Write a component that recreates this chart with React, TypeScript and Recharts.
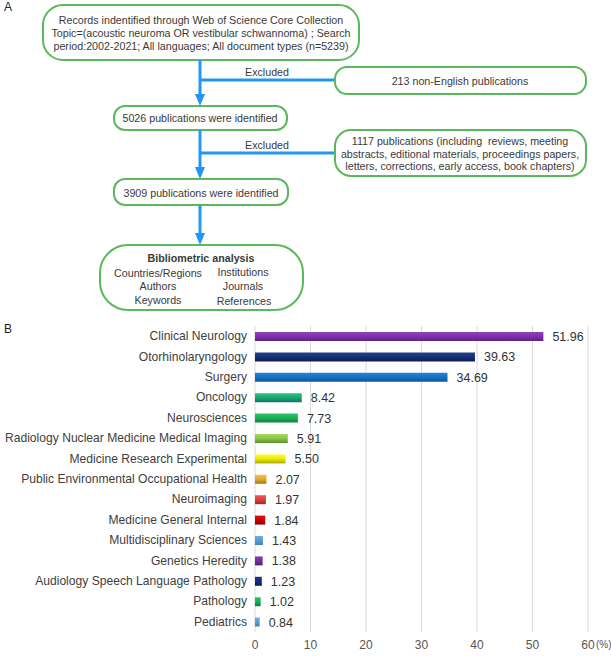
import React from "react";
import { BarChart, Bar, XAxis, YAxis, CartesianGrid, Cell, LabelList } from "recharts";

const categories = [
  "Clinical Neurology",
  "Otorhinolaryngology",
  "Surgery",
  "Oncology",
  "Neurosciences",
  "Radiology Nuclear Medicine Medical Imaging",
  "Medicine Research Experimental",
  "Public Environmental Occupational Health",
  "Neuroimaging",
  "Medicine General Internal",
  "Multidisciplinary Sciences",
  "Genetics Heredity",
  "Audiology Speech Language Pathology",
  "Pathology",
  "Pediatrics",
];
const shares = [51.96, 39.63, 34.69, 8.42, 7.73, 5.91, 5.5, 2.07, 1.97, 1.84, 1.43, 1.38, 1.23, 1.02, 0.84];
const xTicks = [0, 10, 20, 30, 40, 50, 60];

// gradient stops per bar: top, middle, bottom
const barColors: string[][] = [
  ["#8a45b8", "#7a32a8", "#5e2284"],
  ["#26408c", "#172f78", "#0e1f58"],
  ["#2585d6", "#1570c2", "#0d5598"],
  ["#2cc37e", "#16a874", "#137068"],
  ["#2cc46a", "#18ad56", "#0f7e3c"],
  ["#a4d964", "#8cc548", "#5e8f2a"],
  ["#ffff40", "#eaea00", "#a8a800"],
  ["#f4c14a", "#e2a830", "#a87618"],
  ["#f05a5a", "#e03c3c", "#a82626"],
  ["#e01010", "#cc0000", "#8a0000"],
  ["#74acdf", "#5b9bd5", "#4382bc"],
  ["#8340b2", "#7030a0", "#50207a"],
  ["#1e3a8e", "#132c7c", "#0a1c58"],
  ["#2cc46a", "#18ad56", "#0f7e3c"],
  ["#74acdf", "#5b9bd5", "#4382bc"],
];

const data = categories.map((name, i) => ({ name, value: shares[i] }));

const FONT = "'Liberation Sans', Arial, Helvetica, sans-serif";
const GREEN = "#5cb85c";
const BLUE = "#2196f3";
const TXT = "#3a3a3a";

function Arrow({ x, y1, y2 }: { x: number; y1: number; y2: number }) {
  return (
    <g>
      <line x1={x} y1={y1} x2={x} y2={y2 - 10} stroke={BLUE} strokeWidth={3} />
      <polygon points={`${x - 5},${y2 - 12} ${x + 5},${y2 - 12} ${x},${y2}`} fill={BLUE} />
    </g>
  );
}

function Flow() {
  const t = {
    fontSize: 10.7,
    fill: TXT,
    textAnchor: "middle" as const,
    dominantBaseline: "central" as const,
    style: { whiteSpace: "pre" as const },
  };
  return (
    <svg width={611} height={320} style={{ position: "absolute", left: 0, top: 0 }} fontFamily={FONT}>
      <text x={4} y={11} fontSize={12} fill="#222">A</text>
      {/* box 1 */}
      <rect x={43} y={5} width={316} height={55} rx={20} fill="#fff" stroke={GREEN} strokeWidth={2} />
      <text x={201} y={20} {...t}>Records indentified through Web of Science Core Collection</text>
      <text x={201} y={33} {...t}>Topic=(acoustic neuroma OR vestibular schwannoma) ; Search</text>
      <text x={201} y={46} {...t}>period:2002-2021; All languages; All document types (n=5239)</text>
      <Arrow x={200} y1={60} y2={106} />
      <line x1={200} y1={80} x2={335} y2={80} stroke={BLUE} strokeWidth={3} />
      <text x={267} y={72} {...t}>Excluded</text>
      <rect x={335} y={67} width={251} height={27} rx={12} fill="#fff" stroke={GREEN} strokeWidth={2} />
      <text x={460} y={81} {...t}>213 non-English publications</text>
      {/* box 2 */}
      <rect x={114} y={106} width={173} height={24} rx={11} fill="#fff" stroke={GREEN} strokeWidth={2} />
      <text x={200} y={118} {...t}>5026 publications were identified</text>
      <Arrow x={200} y1={130} y2={179} />
      <line x1={200} y1={153} x2={335} y2={153} stroke={BLUE} strokeWidth={3} />
      <text x={267} y={145} {...t}>Excluded</text>
      <rect x={335} y={130} width={251} height={46} rx={16} fill="#fff" stroke={GREEN} strokeWidth={2} />
      <text x={460} y={141} {...t}>1117 publications (including  reviews, meeting</text>
      <text x={460} y={153.5} {...t}>abstracts, editional materials, proceedings papers,</text>
      <text x={460} y={166} {...t}>letters, corrections, early access, book chapters)</text>
      {/* box 3 */}
      <rect x={114} y={179} width={174} height={26} rx={11} fill="#fff" stroke={GREEN} strokeWidth={2} />
      <text x={201} y={192.5} {...t}>3909 publications were identified</text>
      <Arrow x={200} y1={205} y2={245} />
      {/* box 4 */}
      <rect x={100} y={245} width={203} height={65} rx={28} fill="#fff" stroke={GREEN} strokeWidth={2} />
      <text x={201} y={258} {...t} fontWeight="bold">Bibliometric analysis</text>
      <text x={158} y={273} {...t}>Countries/Regions</text>
      <text x={243} y={272} {...t}>Institutions</text>
      <text x={158} y={285.5} {...t}>Authors</text>
      <text x={243} y={285.5} {...t}>Journals</text>
      <text x={158} y={300} {...t}>Keywords</text>
      <text x={244} y={301} {...t}>References</text>
    </svg>
  );
}

function XTick(props: any) {
  const { x, y, payload } = props;
  return (
    <g>
      <text x={x} y={y} dy="0.71em" textAnchor="middle" fontSize={12} fill="#555" fontFamily={FONT}>
        {payload.value}
      </text>
      {payload.value === 60 ? (
        <text x={x + 8} y={y + 1} dy="0.71em" textAnchor="start" fontSize={10} fill="#555" fontFamily={FONT}>
          (%)
        </text>
      ) : null}
    </g>
  );
}

function YTick(props: any) {
  const { x, y, payload } = props;
  return (
    <text x={x} y={y} textAnchor="end" dominantBaseline="central" fontSize={12.1} fill="#404040" fontFamily={FONT}>
      {payload.value}
    </text>
  );
}

export default function App() {
  return (
    <div style={{ position: "absolute", left: 0, top: 0, width: 611, height: 659, background: "#fff", fontFamily: FONT }}>
      <Flow />
      <svg width={20} height={20} style={{ position: "absolute", left: 0, top: 320 }}>
        <text x={4} y={13} fontSize={12} fill="#222" fontFamily={FONT}>B</text>
      </svg>
      <div style={{ position: "absolute", left: 0, top: 0 }}>
        <BarChart
          width={611}
          height={659}
          data={data}
          layout="vertical"
          margin={{ top: 326, right: 23, bottom: 0, left: 0 }}
          barCategoryGap={0}
        >
          <defs>
            {barColors.map((c, i) => (
              <linearGradient key={i} id={`bg${i}`} x1="0" y1="0" x2="0" y2="1">
                <stop offset="0%" stopColor={c[0]} />
                <stop offset="50%" stopColor={c[1]} />
                <stop offset="100%" stopColor={c[2]} />
              </linearGradient>
            ))}
          </defs>
          <CartesianGrid horizontal={false} stroke="#d9d9d9" />
          <XAxis
            type="number"
            domain={[0, 60]}
            ticks={xTicks}
            axisLine={false}
            tickLine={false}
            height={27}
            tick={<XTick />}
            interval={0}
          />
          <YAxis
            type="category"
            dataKey="name"
            width={255}
            axisLine={false}
            tickLine={false}
            interval={0}
            tick={<YTick />}
          />
          <Bar dataKey="value" barSize={9} isAnimationActive={false}>
            {data.map((d, i) => (
              <Cell key={d.name} fill={`url(#bg${i})`} />
            ))}
            <LabelList
              dataKey="value"
              position="right"
              offset={9}
              formatter={(v: any) => Number(v).toFixed(2)}
              fill="#333"
              fontSize={12.5}
              fontFamily={FONT}
            />
          </Bar>
        </BarChart>
      </div>
    </div>
  );
}
